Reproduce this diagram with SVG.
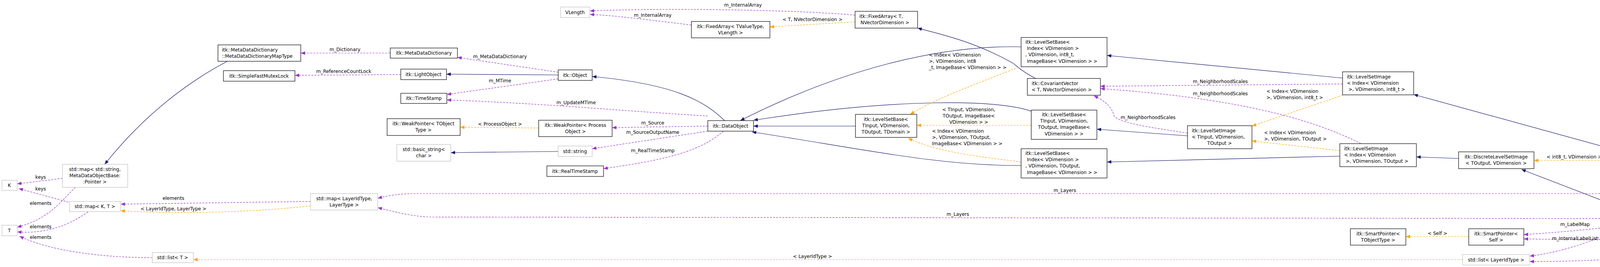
<svg xmlns="http://www.w3.org/2000/svg" width="4976" height="684" viewBox="0 0 4976 684">
<style>
text{font-family:"DejaVu Sans","Liberation Sans",sans-serif;font-size:12px;fill:#000}
.n rect{fill:#fff;stroke:#000;stroke-width:1.2}
.g rect{fill:#fff;stroke:#bfbfbf;stroke-width:1.2}
.m{text-anchor:middle}
.s{text-anchor:start}
.nv{fill:none;stroke:#191970;stroke-width:1.2;marker-end:url(#an)}
.or{fill:none;stroke:#ffa500;stroke-width:1.2;stroke-dasharray:5,3;marker-end:url(#ao)}
.pu{fill:none;stroke:#9a32cd;stroke-width:1.2;stroke-dasharray:5,3;marker-end:url(#ap)}
</style>
<defs>
<marker id="an" viewBox="0 0 10 8" refX="10" refY="4" markerWidth="11" markerHeight="9" markerUnits="userSpaceOnUse" orient="auto"><path d="M0,0L10,4L0,8z" fill="#191970"/></marker>
<marker id="ao" viewBox="0 0 10 8" refX="10" refY="4" markerWidth="11" markerHeight="9" markerUnits="userSpaceOnUse" orient="auto"><path d="M0,0L10,4L0,8z" fill="#ffa500"/></marker>
<marker id="ap" viewBox="0 0 10 8" refX="10" refY="4" markerWidth="11" markerHeight="9" markerUnits="userSpaceOnUse" orient="auto"><path d="M0,0L10,4L0,8z" fill="#9a32cd"/></marker>
</defs>
<rect width="4976" height="684" fill="#fff"/>
<g id="connectors">
<path class="nv" d="M582,157 C500,200 380,280 268,421"/>
<path class="nv" d="M1429,192 L1143,190"/>
<path class="nv" d="M1429,388 L1154,391"/>
<path class="nv" d="M1855,309 C1800,255 1720,215 1516,196"/>
<path class="nv" d="M2614,120 C2400,115 2150,180 1895,309"/>
<path class="nv" d="M2640,285 C2560,255 2300,250 1929,308"/>
<path class="nv" d="M2190,323 L1929,323"/>
<path class="nv" d="M2614,424 C2400,425 2200,380 1925,338"/>
<path class="nv" d="M2651,201 C2610,180 2600,165 2590,160 C2500,110 2420,90 2349,72"/>
<path class="nv" d="M3040,348 L2808,331"/>
<path class="nv" d="M3437,200 L2834,142"/>
<path class="nv" d="M3430,400 L2834,415"/>
<path class="nv" d="M3734,406 L3626,402"/>
<path class="nv" d="M4154,389 L3619,242"/>
<path class="nv" d="M4170,540 L3895,434"/>
<path class="nv" d="M4602,540 C4560,500 4520,475 4480,462 C4420,440 4370,430 4327,424"/>
<path class="nv" d="M4771,561 L4719,561"/>
<path class="or" d="M1379,328 L1178,326"/>
<path class="or" d="M2189,56 L1971,69"/>
<path class="or" d="M2608,172 C2500,215 2400,250 2330,293"/>
<path class="or" d="M2640,321 L2347,321"/>
<path class="or" d="M2614,415 C2500,400 2400,390 2325,354"/>
<path class="or" d="M3437,244 L3205,323"/>
<path class="or" d="M3430,386 L3205,361"/>
<path class="or" d="M4134,411 L3927,411"/>
<path class="or" d="M4534,561 L4324,561"/>
<path class="or" d="M3760,606 L3599,606"/>
<path class="or" d="M795,527 C650,545 450,548 309,540"/>
<path class="or" d="M3744,665 L495,665"/>
<path class="pu" d="M999,136 L770,136"/>
<path class="pu" d="M1026,191 L755,193"/>
<path class="pu" d="M1429,185 L1171,147"/>
<path class="pu" d="M1429,202 L1144,242"/>
<path class="pu" d="M1812,297 C1600,285 1400,265 1144,256"/>
<path class="pu" d="M1812,323 L1567,327"/>
<path class="pu" d="M1812,336 L1516,381"/>
<path class="pu" d="M1852,336 C1790,390 1700,410 1545,432"/>
<path class="pu" d="M2189,39 C2050,25 1700,20 1510,28"/>
<path class="pu" d="M1770,64 C1650,50 1580,40 1510,37"/>
<path class="pu" d="M3437,215 L2817,221"/>
<path class="pu" d="M3484,368 C3350,300 3150,250 2817,227"/>
<path class="pu" d="M3040,341 C2900,320 2850,310 2850,290 C2840,265 2820,255 2800,245"/>
<path class="pu" d="M4540,540 C4420,505 4300,496 4150,496 L1050,496 C1010,498 990,502 967,508"/>
<path class="pu" d="M4136,560 L1100,556 C1050,554 1000,540 967,532"/>
<path class="pu" d="M4136,580 C4050,590 3950,598 3901,601"/>
<path class="pu" d="M4534,581 C4400,610 4200,617 3901,612"/>
<path class="pu" d="M4152,582 C4080,620 3980,650 3916,656"/>
<path class="pu" d="M4587,582 C4450,640 4200,670 3916,670"/>
<path class="pu" d="M160,457 L44,471"/>
<path class="pu" d="M175,518 C130,505 80,492 48,483"/>
<path class="pu" d="M193,480 C160,510 130,560 44,582"/>
<path class="pu" d="M225,543 C180,575 120,600 44,594"/>
<path class="pu" d="M390,660 C250,660 120,640 50,605"/>
<path class="pu" d="M795,516 L309,523"/>
<g class="m">
<text x="1280" y="322">&lt; ProcessObject &gt;</text>
<text x="2080" y="54">&lt; T, NVectorDimension &gt;</text>
<text x="2480" y="285">&lt; TInput, VDimension,</text><text x="2480" y="301">TOutput, ImageBase&lt;</text><text x="2480" y="317">VDimension &gt; &gt;</text>
<text x="4030" y="406">&lt; int8_t, VDimension &gt;</text>
<text x="4432" y="557">&lt; int8_t, VDimension &gt;</text>
<text x="3680" y="602">&lt; Self &gt;</text>
<text x="444" y="539">&lt; LayerIdType, LayerType &gt;</text>
<text x="2080" y="661">&lt; LayerIdType &gt;</text>
<text x="883" y="131">m_Dictionary</text>
<text x="880" y="187">m_ReferenceCountLock</text>
<text x="1280" y="149">m_MetaDataDictionary</text>
<text x="1280" y="211">m_MTime</text>
<text x="1475" y="267">m_UpdateMTime</text>
<text x="1671" y="319">m_Source</text>
<text x="1671" y="343">m_SourceOutputName</text>
<text x="1671" y="390">m_RealTimeStamp</text>
<text x="1902" y="17">m_InternalArray</text>
<text x="1671" y="43">m_InternalArray</text>
<text x="3124" y="213">m_NeighborhoodScales</text>
<text x="3124" y="244">m_NeighborhoodScales</text>
<text x="2939" y="305">m_NeighborhoodScales</text>
<text x="2726" y="492">m_Layers</text>
<text x="2452" y="553">m_Layers</text>
<text x="4032" y="579">m_LabelMap</text>
<text x="4232" y="607">m_LabelMap</text>
<text x="4032" y="615">m_InternalLabelList</text>
<text x="4232" y="645">m_InternalLabelList</text>
<text x="104" y="458">keys</text>
<text x="104" y="488">keys</text>
<text x="104" y="525">elements</text>
<text x="104" y="585">elements</text>
<text x="104" y="612">elements</text>
<text x="444" y="512">elements</text>
</g>
<g class="s">
<text x="2378" y="145">&lt; Index&lt; VDimension</text><text x="2378" y="161">&gt;, VDimension, int8</text><text x="2378" y="177">_t, ImageBase&lt; VDimension &gt; &gt;</text>
<text x="2386" y="340">&lt; Index&lt; VDimension</text><text x="2386" y="356">&gt;, VDimension, TOutput,</text><text x="2386" y="372">ImageBase&lt; VDimension &gt; &gt;</text>
<text x="3242" y="238">&lt; Index&lt; VDimension</text><text x="3242" y="254">&gt;, VDimension, int8_t &gt;</text>
<text x="3236" y="344">&lt; Index&lt; VDimension</text><text x="3236" y="360">&gt;, VDimension, TOutput &gt;</text>
</g>
</g>
<g id="mapType" class="n"><rect x="558" y="115" width="212" height="42"/><text class="s" x="568" y="132">itk::MetaDataDictionary</text><text class="s" x="568" y="148">::MetaDataDictionaryMapType</text></g>
<g id="mutex" class="n"><rect x="572" y="181" width="183" height="27"/><text class="m" x="663" y="199">itk::SimpleFastMutexLock</text></g>
<g id="mapString" class="g"><rect x="160" y="421" width="167" height="59"/><text class="m" x="243" y="438">std::map&lt; std::string,</text><text class="m" x="243" y="454">MetaDataObjectBase:</text><text class="m" x="243" y="470">:Pointer &gt;</text></g>
<g id="K" class="g"><rect x="5" y="462" width="39" height="26"/><text class="m" x="24" y="479">K</text></g>
<g id="mapKT" class="g"><rect x="178" y="516" width="131" height="26"/><text class="m" x="243" y="533">std::map&lt; K, T &gt;</text></g>
<g id="T" class="g"><rect x="5" y="577" width="39" height="27"/><text class="m" x="24" y="595">T</text></g>
<g id="listT" class="g"><rect x="390" y="647" width="105" height="26"/><text class="m" x="442" y="664">std::list&lt; T &gt;</text></g>
<g id="mapLayer" class="g"><rect x="795" y="496" width="172" height="42"/><text class="m" x="881" y="513">std::map&lt; LayerIdType,</text><text class="m" x="881" y="529">LayerType &gt;</text></g>
<g id="VLength" class="g"><rect x="1435" y="18" width="75" height="27"/><text class="m" x="1472" y="36">VLength</text></g>
<g id="mdd" class="n"><rect x="999" y="123" width="172" height="26"/><text class="m" x="1085" y="140">itk::MetaDataDictionary</text></g>
<g id="lightObj" class="n"><rect x="1026" y="177" width="117" height="27"/><text class="m" x="1084" y="195">itk::LightObject</text></g>
<g id="timeStamp" class="n"><rect x="1026" y="239" width="118" height="26"/><text class="m" x="1085" y="256">itk::TimeStamp</text></g>
<g id="wpT" class="n"><rect x="991" y="304" width="187" height="43"/><text class="m" x="1084" y="321">itk::WeakPointer&lt; TObject</text><text class="m" x="1084" y="337">Type &gt;</text></g>
<g id="wpP" class="n"><rect x="1379" y="308" width="188" height="42"/><text class="m" x="1473" y="325">itk::WeakPointer&lt; Process</text><text class="m" x="1473" y="341">Object &gt;</text></g>
<g id="basicStr" class="g"><rect x="1016" y="370" width="138" height="43"/><text class="m" x="1085" y="387">std::basic_string&lt;</text><text class="m" x="1085" y="403">char &gt;</text></g>
<g id="stdString" class="g"><rect x="1429" y="374" width="87" height="27"/><text class="m" x="1472" y="392">std::string</text></g>
<g id="realTS" class="n"><rect x="1400" y="425" width="145" height="27"/><text class="m" x="1472" y="443">itk::RealTimeStamp</text></g>
<g id="object" class="n"><rect x="1429" y="179" width="87" height="27"/><text class="m" x="1472" y="197">itk::Object</text></g>
<g id="faTV" class="n"><rect x="1770" y="55" width="201" height="42"/><text class="m" x="1870" y="72">itk::FixedArray&lt; TValueType,</text><text class="m" x="1870" y="88">VLength &gt;</text></g>
<g id="faTN" class="n"><rect x="2189" y="29" width="160" height="43"/><text class="s" x="2200" y="46">itk::FixedArray&lt; T,</text><text class="s" x="2203" y="62">NVectorDimension &gt;</text></g>
<g id="dataObj" class="n"><rect x="1812" y="309" width="117" height="27"/><text class="m" x="1870" y="327">itk::DataObject</text></g>
<g id="lsbTD" class="n"><rect x="2190" y="293" width="157" height="59"/><text class="m" x="2268" y="310">itk::LevelSetBase&lt;</text><text class="m" x="2268" y="326">TInput, VDimension,</text><text class="m" x="2268" y="342">TOutput, TDomain &gt;</text></g>
<g id="lsbI8" class="n"><rect x="2614" y="96" width="220" height="75"/><text class="s" x="2625" y="112">itk::LevelSetBase&lt;</text><text class="s" x="2629" y="128">Index&lt; VDimension &gt;</text><text class="s" x="2625" y="144">, VDimension, int8_t,</text><text class="s" x="2629" y="161">ImageBase&lt; VDimension &gt; &gt;</text></g>
<g id="cov" class="n"><rect x="2630" y="201" width="187" height="43"/><text class="s" x="2641" y="218">itk::CovariantVector</text><text class="s" x="2641" y="234">&lt; T, NVectorDimension &gt;</text></g>
<g id="lsbTI" class="n"><rect x="2640" y="282" width="168" height="75"/><text class="m" x="2724" y="298">itk::LevelSetBase&lt;</text><text class="m" x="2724" y="314">TInput, VDimension,</text><text class="m" x="2724" y="330">TOutput, ImageBase&lt;</text><text class="m" x="2724" y="347">VDimension &gt; &gt;</text></g>
<g id="lsbIT" class="n"><rect x="2614" y="381" width="220" height="75"/><text class="s" x="2625" y="397">itk::LevelSetBase&lt;</text><text class="s" x="2629" y="413">Index&lt; VDimension &gt;</text><text class="s" x="2625" y="429">, VDimension, TOutput,</text><text class="s" x="2629" y="446">ImageBase&lt; VDimension &gt; &gt;</text></g>
<g id="lsiT" class="n"><rect x="3040" y="322" width="165" height="59"/><text class="s" x="3051" y="339">itk::LevelSetImage</text><text class="s" x="3051" y="355">&lt; TInput, VDimension,</text><text class="m" x="3122" y="371">TOutput &gt;</text></g>
<g id="lsiI8" class="n"><rect x="3437" y="184" width="182" height="59"/><text class="s" x="3448" y="201">itk::LevelSetImage</text><text class="s" x="3448" y="217">&lt; Index&lt; VDimension</text><text class="s" x="3452" y="233">&gt;, VDimension, int8_t &gt;</text></g>
<g id="lsiIT" class="n"><rect x="3430" y="368" width="196" height="59"/><text class="s" x="3441" y="385">itk::LevelSetImage</text><text class="s" x="3441" y="401">&lt; Index&lt; VDimension</text><text class="s" x="3445" y="417">&gt;, VDimension, TOutput &gt;</text></g>
<g id="dlsT" class="n"><rect x="3734" y="389" width="193" height="43"/><text class="m" x="3830" y="406">itk::DiscreteLevelSetImage</text><text class="m" x="3830" y="422">&lt; TOutput, VDimension &gt;</text></g>
<g id="dls8" class="n"><rect x="4134" y="389" width="193" height="43"/><text class="m" x="4230" y="406">itk::DiscreteLevelSetImage</text><text class="m" x="4230" y="422">&lt; int8_t, VDimension &gt;</text></g>
<g id="lssT" class="n"><rect x="4136" y="540" width="188" height="42"/><text class="m" x="4230" y="557">itk::LevelSetSparseImage</text><text class="m" x="4230" y="573">&lt; TOutput, VDimension &gt;</text></g>
<g id="lss8" class="n"><rect x="4534" y="540" width="185" height="42"/><text class="m" x="4626" y="557">itk::LevelSetSparseImage</text><text class="m" x="4626" y="573">&lt; int8_t, VDimension &gt;</text></g>
<g id="malcolm" class="n"><rect x="4771" y="540" width="199" height="42" style="fill:#bfbfbf"/><text class="m" x="4870" y="557">itk::MalcolmSparseLevelSet</text><text class="m" x="4870" y="573">Image&lt; VDimension &gt;</text></g>
<g id="spT" class="n"><rect x="3457" y="586" width="142" height="42"/><text class="m" x="3528" y="603">itk::SmartPointer&lt;</text><text class="m" x="3528" y="619">TObjectType &gt;</text></g>
<g id="spS" class="n"><rect x="3760" y="586" width="141" height="42"/><text class="m" x="3830" y="603">itk::SmartPointer&lt;</text><text class="m" x="3830" y="619">Self &gt;</text></g>
<g id="listL" class="g"><rect x="3744" y="652" width="172" height="27"/><text class="m" x="3830" y="670">std::list&lt; LayerIdType &gt;</text></g>
</svg>
